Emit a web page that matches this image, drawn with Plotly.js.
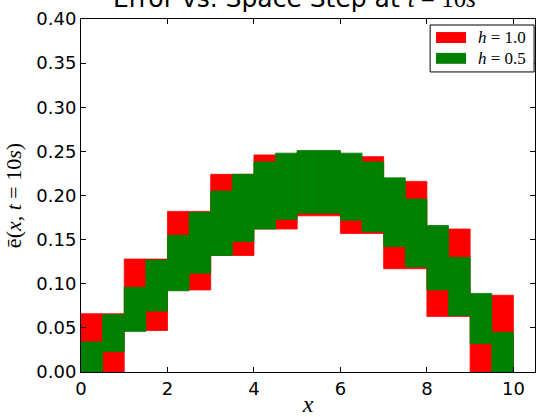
<!DOCTYPE html>
<html>
<head>
<meta charset="utf-8">
<script src="https://cdn.plot.ly/plotly-3.0.1.min.js"></script>
<style>html,body{margin:0;padding:0;background:#fff;}#chart{width:537px;height:417px;}</style>
</head>
<body>
<div id="chart"></div>
<script>
// h = 1.0 bins: left edges, lower and upper values
const redLeft = [0, 1, 2, 3, 4, 5, 6, 7, 8, 9];
const redLow  = [0.000, 0.047, 0.093, 0.132, 0.162, 0.177, 0.157, 0.117, 0.063, 0.000];
const redHigh = [0.066, 0.128, 0.182, 0.224, 0.246, 0.250, 0.244, 0.216, 0.162, 0.087];

// h = 0.5 bins
const greenLeft = [0, 0.5, 1, 1.5, 2, 2.5, 3, 3.5, 4, 4.5, 5, 5.5, 6, 6.5, 7, 7.5, 8, 8.5, 9, 9.5];
const greenLow  = [0.000, 0.023, 0.046, 0.069, 0.092, 0.112, 0.132, 0.148, 0.162, 0.173, 0.180, 0.180, 0.172, 0.159, 0.142, 0.119, 0.093, 0.064, 0.032, 0.000];
const greenHigh = [0.034, 0.065, 0.096, 0.127, 0.155, 0.181, 0.205, 0.224, 0.238, 0.248, 0.251, 0.251, 0.248, 0.238, 0.220, 0.196, 0.166, 0.130, 0.089, 0.045];

const seriesNames = ['<i>h</i> = 1.0', '<i>h</i> = 0.5'];
const seriesColors = ['#ff0000', '#008000'];

const yTicks = [0, 0.05, 0.10, 0.15, 0.20, 0.25, 0.30, 0.35, 0.40];
const xTicks = [0, 2, 4, 6, 8, 10];

function barTrace(left, low, high, w, color, name) {
  return {
    type: 'bar',
    x: left.map(v => v + w / 2),
    base: low,
    y: high.map((v, i) => v - low[i]),
    width: w,
    name: name,
    marker: {color: color, line: {width: 0.8, color: color}},
    hoverinfo: 'skip',
    showlegend: false
  };
}

const data = [
  barTrace(redLeft, redLow, redHigh, 1.0, seriesColors[0], seriesNames[0]),
  barTrace(greenLeft, greenLow, greenHigh, 0.5, seriesColors[1], seriesNames[1])
];

const axisCommon = {
  showline: true, linecolor: '#000', linewidth: 1, mirror: 'allticks',
  ticks: 'inside', ticklen: 5, tickcolor: '#000', tickwidth: 1,
  showgrid: false, zeroline: false,
  tickfont: {family: 'DejaVu Sans', size: 18, color: '#000'}
};

// custom legend (box, wide swatches, labels) in paper coordinates
const legendShapes = [
  {type: 'rect', xref: 'paper', yref: 'paper', x0: 0.769, x1: 0.998, y0: 0.850, y1: 0.983,
   line: {color: '#000', width: 1}, fillcolor: '#fff', layer: 'above'},
  {type: 'rect', xref: 'paper', yref: 'paper', x0: 0.782, x1: 0.848, y0: 0.932, y1: 0.963,
   line: {width: 0}, fillcolor: seriesColors[0], layer: 'above'},
  {type: 'rect', xref: 'paper', yref: 'paper', x0: 0.782, x1: 0.848, y0: 0.873, y1: 0.904,
   line: {width: 0}, fillcolor: seriesColors[1], layer: 'above'}
];
const legendText = [
  {xref: 'paper', yref: 'paper', x: 0.870, y: 0.947, xanchor: 'left', yanchor: 'middle',
   text: seriesNames[0], showarrow: false, font: {family: 'Liberation Serif', size: 17, color: '#000'}},
  {xref: 'paper', yref: 'paper', x: 0.870, y: 0.888, xanchor: 'left', yanchor: 'middle',
   text: seriesNames[1], showarrow: false, font: {family: 'Liberation Serif', size: 17, color: '#000'}}
];

const layout = {
  width: 537, height: 417,
  margin: {l: 81, r: 2, t: 19, b: 45},
  paper_bgcolor: '#fff', plot_bgcolor: '#fff',
  barmode: 'overlay',
  showlegend: false,
  title: {
    text: 'Error vs. Space Step at <span style="font-family:Liberation Serif"><i>t</i> = 10<i>s</i></span>',
    font: {family: 'DejaVu Sans', size: 25, color: '#000'},
    x: 0.2104, xanchor: 'left', xref: 'container',
    y: 0.984, yanchor: 'bottom', yref: 'container'
  },
  xaxis: Object.assign({}, axisCommon, {
    range: [0, 10.5], tickvals: xTicks, ticktext: xTicks.map(String),
    title: {text: '<i>x</i>', font: {family: 'Liberation Serif', size: 24, color: '#000'}, standoff: 4}
  }),
  yaxis: Object.assign({}, axisCommon, {
    range: [0, 0.40], tickvals: yTicks, ticktext: yTicks.map(v => v.toFixed(2)),
    title: {text: 'ē(<i>x</i>, <i>t</i> = 10<i>s</i>)', font: {family: 'Liberation Serif', size: 22, color: '#000'}, standoff: 8}
  }),
  shapes: legendShapes,
  annotations: legendText
};

Plotly.newPlot('chart', data, layout, {displayModeBar: false, staticPlot: true});
</script>
</body>
</html>
